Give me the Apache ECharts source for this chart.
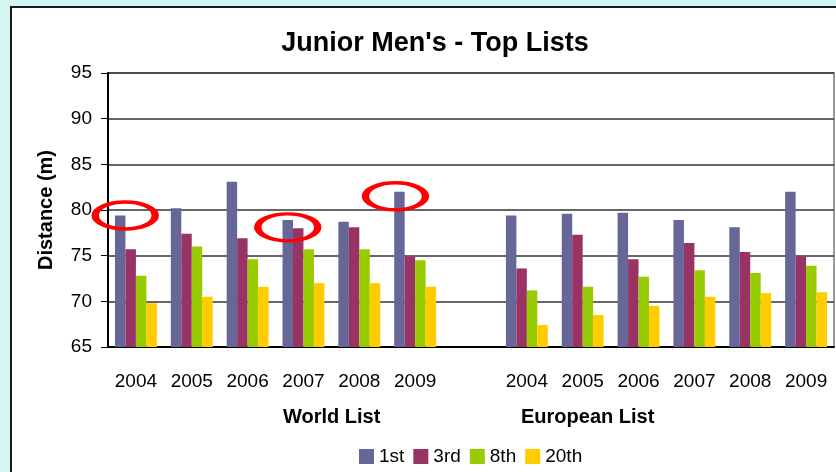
<html>
<head>
    <meta charset="utf-8">
    <title>Junior Men's - Top Lists</title>
    <script src="https://cdn.jsdelivr.net/npm/echarts@6/dist/echarts.min.js"></script>
    <style>
        body { margin: 0; background: #d5f5f2; overflow: hidden; }
        #frame { position: absolute; left: 10px; top: 6px; width: 900px; height: 520px; border: 2px solid #1a1a1a; background: white; }
        #main { position: absolute; left: 0; top: 0; width: 836px; height: 472px; }
    </style>
</head>
<body>
    <div id='frame'></div>
    <div id='main'></div>
    <script>
        // data (world list, gap, european list)
        var YEARS = ['2004', '2005', '2006', '2007', '2008', '2009', '', '2004', '2005', '2006', '2007', '2008', '2009']
        var PLACES = ['1st', '3rd', '8th', '20th']
        var FIRST = [79.4, 80.2, 83.1, 78.9, 78.7, 82.0, null, 79.4, 79.6, 79.7, 78.9, 78.1, 82.0]
        var THIRD = [75.7, 77.4, 76.9, 78.0, 78.1, 74.9, null, 73.6, 77.3, 74.6, 76.4, 75.4, 74.9]
        var EIGHTH = [72.8, 76.0, 74.6, 75.7, 75.7, 74.5, null, 71.2, 71.6, 72.7, 73.4, 73.1, 73.9]
        var TWENTIETH = [69.8, 70.5, 71.6, 72.0, 72.0, 71.6, null, 67.4, 68.5, 69.5, 70.5, 70.9, 71.0]
        var COLORS = ['#666699', '#993366', '#99cc00', '#ffcc00']
        // red rings drawn over the world list (category index, value)
        var RINGS = [[0, 79.4], [3, 78.1], [5, 81.5]]

        var FONT = "'Liberation Sans', Arial, sans-serif"
        var ELLIPSE = 'path://M1,0C1,0.5523 0.5523,1 0,1C-0.5523,1 -1,0.5523 -1,0C-1,-0.5523 -0.5523,-1 0,-1C0.5523,-1 1,-0.5523 1,0Z'
        // rings sit slightly off the 1st-place bar
        var RING_DX = [5, 0, -4]

        var chart = echarts.init(document.getElementById('main'))
        var allData = [FIRST, THIRD, EIGHTH, TWENTIETH]
        var series = PLACES.map((name, i) => ({
            name: name,
            type: 'bar',
            data: allData[i],
            itemStyle: { color: COLORS[i] },
            barGap: '0%',
            barCategoryGap: '25%',
        }))
        series[0].markPoint = {
            symbol: ELLIPSE,
            symbolSize: [60, 27],
            label: { show: false },
            itemStyle: { color: 'rgba(0,0,0,0)', borderColor: '#ff0000', borderWidth: 5 },
            z: 10,
            data: RINGS.map((r, i) => ({ coord: r, symbolOffset: [RING_DX[i], 0] })),
        }

        chart.setOption({
            animation: false,
            backgroundColor: 'transparent',
            textStyle: { fontFamily: FONT },
            title: {
                text: "Junior Men's - Top Lists",
                left: 430, top: 25, textAlign: 'center',
                textStyle: { fontSize: 27, fontWeight: 'bold', color: '#000', fontFamily: FONT },
            },
            legend: {
                data: PLACES,
                left: 354, top: 442,
                itemWidth: 15, itemHeight: 15, itemGap: 9,
                icon: 'rect',
                textStyle: { fontSize: 19, color: '#000', fontFamily: FONT },
            },
            grid: {
                left: 108, right: 2, top: 73, bottom: 125,
                show: true, borderColor: '#999', borderWidth: 2,
            },
            xAxis: {
                type: 'category',
                data: YEARS,
                axisLine: { lineStyle: { color: '#000', width: 2 } },
                axisTick: { length: 7, lineStyle: { color: '#000' } },
                axisLabel: { fontSize: 19, color: '#000', margin: 25, interval: 0 },
            },
            yAxis: {
                type: 'value',
                min: 65, max: 95, interval: 5,
                name: 'Distance (m)',
                nameLocation: 'middle', nameGap: 52,
                nameTextStyle: { fontSize: 20, fontWeight: 'bold', color: '#000' },
                axisLine: { show: true, lineStyle: { color: '#000', width: 2 } },
                axisTick: { show: true, length: 7, lineStyle: { color: '#000' } },
                axisLabel: { fontSize: 19, color: '#000', margin: 16 },
                splitLine: { lineStyle: { color: '#333', width: 1.5 } },
            },
            graphic: [
                { type: 'text', left: 283, top: 407, style: { text: 'World List', font: "bold 20px " + FONT, fill: '#000' } },
                { type: 'text', left: 521, top: 407, style: { text: 'European List', font: "bold 20px " + FONT, fill: '#000' } },
            ],
            series: series,
        })
    </script>
</body>
</html>
